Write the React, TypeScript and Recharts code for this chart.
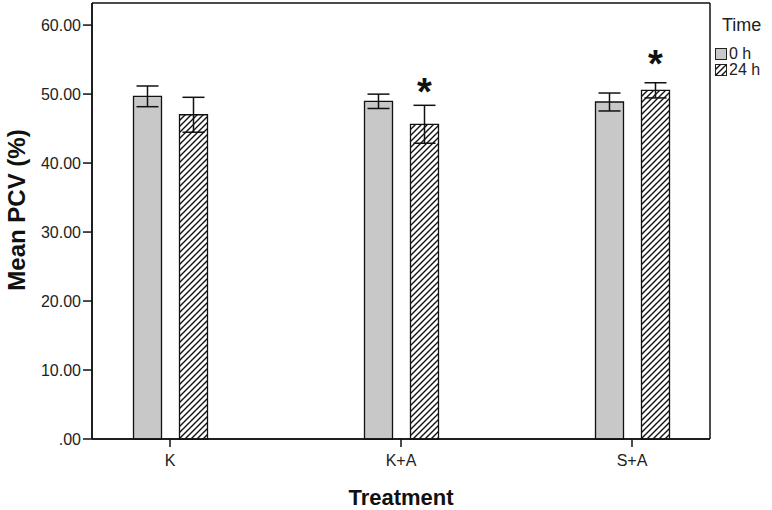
import { BarChart, Bar, XAxis, YAxis, ErrorBar, Legend, LabelList, CartesianGrid } from 'recharts';

const treatments = ['K', 'K+A', 'S+A'];
const mean0h = [49.67, 48.95, 48.85];
const err0h = [1.5, 1.04, 1.3];
const mean24h = [47.0, 45.62, 50.54];
const err24h = [2.53, 2.75, 1.1];
// where the significance asterisk sits (value units), null = none
const star24h = [null, 50.9, 54.9];
const yTicks = [0, 10, 20, 30, 40, 50, 60];

const legendItems = [
    { key: 'h0', label: '0 h', fill: '#c8c8c8' },
    { key: 'h24', label: '24 h', fill: 'url(#hatch)' },
];

const data = treatments.map((name, i) => ({
    name,
    h0: mean0h[i],
    e0: err0h[i],
    h24: mean24h[i],
    e24: err24h[i],
    star: star24h[i],
}));

const FONT = '"Liberation Sans", Arial, sans-serif';

const fmtY = (v: number) => (v === 0 ? '.00' : v.toFixed(2));

const StarLabel = (props: any) => {
    const { x, y, width, height, value, index } = props;
    const s = star24h[index];
    if (s == null || !value) return null;
    const px = height / value;
    const cy = y + height - s * px;
    return (
        <text
            x={x + width / 2}
            y={cy + 17}
            textAnchor="middle"
            fontFamily={FONT}
            fontWeight="bold"
            fontSize={38}
            fill="#111"
        >
            *
        </text>
    );
};

const LegendBox = () => (
    <div style={{ fontFamily: FONT, color: '#222', position: 'relative', width: 60, height: 80 }}>
        <div style={{ position: 'absolute', left: 7, top: 14, fontSize: 18, lineHeight: '22px' }}>Time</div>
        {legendItems.map((item, i) => (
            <div
                key={item.key}
                style={{ position: 'absolute', left: 0, top: 47 + i * 16, display: 'flex', alignItems: 'center' }}
            >
                <svg width={12} height={12} style={{ display: 'block' }}>
                    <rect x={0.5} y={0.5} width={11} height={11} fill={item.fill} stroke="#222" strokeWidth={1} />
                </svg>
                <span style={{ fontSize: 16, lineHeight: '14px', marginLeft: 2 }}>{item.label}</span>
            </div>
        ))}
    </div>
);

export default function App() {
    return (
        <div style={{ position: 'absolute', left: 0, top: 0, width: 772, height: 510, background: '#fff' }}>
            <svg width={0} height={0} style={{ position: 'absolute' }}>
                <defs>
                    <pattern id="hatch" patternUnits="userSpaceOnUse" width={6} height={6}>
                        <rect width={6} height={6} fill="#fff" />
                        <path d="M-1,1 l2,-2 M0,6 l6,-6 M5,7 l2,-2" stroke="#111" strokeWidth={1.4} />
                    </pattern>
                </defs>
            </svg>
            <BarChart
                width={772}
                height={510}
                data={data}
                margin={{ top: 3, right: 62, bottom: 0, left: 0 }}
                barSize={28}
                barGap={18}
            >
                {/* plot frame: grid lines only at the plot area's edges */}
                <CartesianGrid
                    stroke="#111"
                    strokeWidth={1.5}
                    horizontalCoordinatesGenerator={({ offset }: any) => [offset.top, offset.top + offset.height]}
                    verticalCoordinatesGenerator={({ offset }: any) => [offset.left, offset.left + offset.width]}
                />
                <XAxis
                    dataKey="name"
                    height={71}
                    padding={{ left: -37.5, right: -37.5 }}
                    tickSize={8}
                    tickMargin={8}
                    tick={{ fill: '#222', fontSize: 16, fontFamily: FONT }}
                    axisLine={{ stroke: '#111', strokeWidth: 1.5 }}
                    tickLine={{ stroke: '#111', strokeWidth: 1.5 }}
                    label={{
                        content: ({ viewBox }: any) => (
                            <text
                                x={viewBox.x + viewBox.width / 2}
                                y={viewBox.y + viewBox.height - 5}
                                textAnchor="middle"
                                fontFamily={FONT}
                                fontWeight="bold"
                                fontSize={22}
                                fill="#111"
                            >
                                Treatment
                            </text>
                        ),
                    }}
                />
                <YAxis
                    width={92}
                    domain={[0, 63.2]}
                    ticks={yTicks}
                    tickFormatter={fmtY}
                    tickSize={9}
                    tickMargin={2}
                    tick={{ fill: '#222', fontSize: 16, fontFamily: FONT }}
                    axisLine={{ stroke: '#111', strokeWidth: 1.5 }}
                    tickLine={{ stroke: '#111', strokeWidth: 1.5 }}
                    label={{
                        content: () => (
                            <text
                                x={25}
                                y={210}
                                transform="rotate(-90 25 210)"
                                textAnchor="middle"
                                fontFamily={FONT}
                                fontWeight="bold"
                                fontSize={24}
                                fill="#111"
                            >
                                Mean PCV (%)
                            </text>
                        ),
                    }}
                />
                <Legend
                    layout="vertical"
                    align="center"
                    verticalAlign="middle"
                    wrapperStyle={{ left: 715, top: 0, width: 60 }}
                    content={() => <LegendBox />}
                />
                <Bar dataKey="h0" name="0 h" fill="#c8c8c8" stroke="#111" strokeWidth={1.3} isAnimationActive={false}>
                    <ErrorBar dataKey="e0" width={11} stroke="#111" strokeWidth={1.5} />
                </Bar>
                <Bar dataKey="h24" name="24 h" fill="url(#hatch)" stroke="#111" strokeWidth={1.3} isAnimationActive={false}>
                    <ErrorBar dataKey="e24" width={11} stroke="#111" strokeWidth={1.5} />
                    <LabelList dataKey="h24" content={StarLabel} />
                </Bar>
            </BarChart>
        </div>
    );
}
